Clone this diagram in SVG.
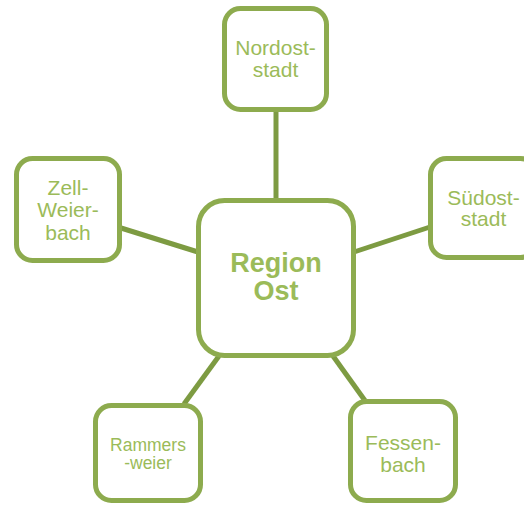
<svg xmlns="http://www.w3.org/2000/svg" width="524" height="507" viewBox="0 0 524 507">
<style>
.box{fill:#fff;stroke:#8DAB4E;stroke-width:5}
.lbl{font-family:"Liberation Sans",Arial,sans-serif;fill:#9BBB59;text-anchor:middle;font-size:21px}
.conn{stroke:#7D9B42;stroke-width:5;fill:none}
</style>
<rect width="524" height="507" fill="#fff"/>
<g id="connectors">
<line class="conn" x1="276" y1="112" x2="276" y2="199"/>
<line class="conn" x1="121" y1="228" x2="198" y2="252"/>
<line class="conn" x1="354" y1="252" x2="430" y2="227"/>
<line class="conn" x1="219" y1="356" x2="184" y2="404"/>
<line class="conn" x1="333" y1="356" x2="366" y2="402"/>
</g>
<g id="center">
<rect class="box" x="198.5" y="200.5" width="155" height="155" rx="26"/>
<text class="lbl" style="font-weight:bold;font-size:27px"><tspan x="276" y="272">Region</tspan><tspan x="276" y="300">Ost</tspan></text>
</g>
<g id="nordost">
<rect class="box" x="224.5" y="8.5" width="102" height="101" rx="16"/>
<text class="lbl"><tspan x="275.5" y="55">Nordost-</tspan><tspan x="275.5" y="77">stadt</tspan></text>
</g>
<g id="zell">
<rect class="box" x="16.5" y="158.5" width="103" height="102" rx="16"/>
<text class="lbl"><tspan x="68" y="195">Zell-</tspan><tspan x="68" y="217">Weier-</tspan><tspan x="68" y="240">bach</tspan></text>
</g>
<g id="suedost">
<rect class="box" x="430.5" y="158.5" width="106" height="99" rx="16"/>
<text class="lbl"><tspan x="483.5" y="205">Südost-</tspan><tspan x="483.5" y="226">stadt</tspan></text>
</g>
<g id="rammers">
<rect class="box" x="95.5" y="405.5" width="105" height="95" rx="16"/>
<text class="lbl" style="font-size:17.5px"><tspan x="148" y="450.5">Rammers</tspan><tspan x="148" y="469">-weier</tspan></text>
</g>
<g id="fessen">
<rect class="box" x="350.5" y="401.5" width="105" height="99" rx="16"/>
<text class="lbl"><tspan x="403" y="450">Fessen-</tspan><tspan x="403" y="472">bach</tspan></text>
</g>
</svg>
